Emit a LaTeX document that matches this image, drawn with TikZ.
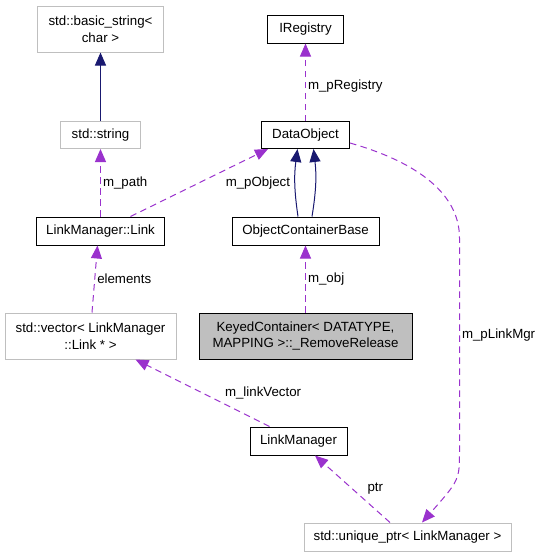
\documentclass[tikz,border=0pt]{standalone}
\usepackage{fontspec}
\setmainfont{Liberation Sans}
\usetikzlibrary{arrows.meta, calc}
\definecolor{usagepurple}{HTML}{9A32CD}
\definecolor{basenavy}{HTML}{191970}
\definecolor{extgray}{HTML}{BFBFBF}

\begin{document}
\begin{tikzpicture}[x=1pt, y=-1pt,
    font=\fontsize{13.3}{16.5}\selectfont,
    box/.style={draw=black, line width=1pt, inner sep=0pt, align=center, minimum height=28pt},
    ext/.style={box, draw=extgray},
    cur/.style={box, fill=extgray},
    usage/.style={draw=usagepurple, line width=1pt, dash pattern=on 6.5pt off 4.5pt,
        -{Triangle[length=13pt, width=11pt, fill=usagepurple]}},
    inherit/.style={draw=basenavy, line width=1pt,
        -{Triangle[length=13pt, width=11pt, fill=basenavy]}},
    lbl/.style={inner sep=2pt}]
    \useasboundingbox (0,0) rectangle (540,557);
    % Classes
    \node[ext, minimum width=126pt, minimum height=46pt] (bstr) at (100.5,29) {std::basic\_string<\\char >};
    \node[box, minimum width=76pt] (ireg) at (305.5,29) {IRegistry};
    \node[ext, minimum width=80pt, minimum height=27pt] (str) at (100.5,135) {std::string};
    \node[box, minimum width=88pt, minimum height=27pt] (dobj) at (305.5,135) {DataObject};
    \node[box, minimum width=128pt] (link) at (100.5,231) {LinkManager::Link};
    \node[box, minimum width=147pt] (ocb) at (305.5,231) {ObjectContainerBase};
    \node[ext, minimum width=171pt, minimum height=46pt] (vec) at (90.5,336) {std::vector< LinkManager\\::Link * >};
    \node[cur, minimum width=213pt, minimum height=46pt] (keyed) at (305.5,336) {KeyedContainer< DATATYPE,\\MAPPING >::\_RemoveRelease};
    \node[box, minimum width=97pt] (lmgr) at (298.5,441) {LinkManager};
    \node[ext, minimum width=207pt] (uptr) at (407.5,537) {std::unique\_ptr< LinkManager >};
    % Inheritance
    \draw[inherit] (str) -- (bstr);
    \draw[inherit] ([xshift=-7.5pt]ocb.north) to[bend left=8] ([xshift=-8pt]dobj.south);
    \draw[inherit] ([xshift=6.5pt]ocb.north) to[bend right=8] ([xshift=8pt]dobj.south);
    % Usage
    \draw[usage] (dobj) -- (ireg) node[lbl, pos=0.45, right] (lreg) {m\_pRegistry};
    \draw[usage] (link) -- (str) node[lbl, midway, right] (lpath) {m\_path};
    \draw[usage] ([xshift=30pt]link.north) -- ([xshift=7pt]dobj.south west)
        node[lbl, midway, anchor=west, xshift=24pt] (lobject) {m\_pObject};
    \draw[usage] (keyed) -- (ocb) node[lbl, midway, right] (lobj) {m\_obj};
    \draw[usage] ([xshift=1.5pt]vec.north) -- ([xshift=-3pt]link.south)
        node[lbl, midway, right] (lelem) {elements};
    \draw[usage] ([xshift=20pt]lmgr.north west) -- ([xshift=45pt]vec.south)
        node[lbl, midway, anchor=west, xshift=20pt] (lvec) {m\_linkVector};
    \draw[usage] ([xshift=-17.5pt]uptr.north) -- ([xshift=16.5pt]lmgr.south)
        node[lbl, midway, anchor=west, xshift=12.5pt] (lptr) {ptr};
    \coordinate (mgrtop) at (459.5,238);
    \coordinate (mgrbot) at (459.5,450);
    \draw[usage] ([yshift=-8pt]dobj.east) .. controls (410,160) and (459.5,190) .. (mgrtop)
        -- (mgrbot) node[lbl, pos=0.46, right] (lmgrptr) {m\_pLinkMgr}
        .. controls (459.5,480) .. ([xshift=14.5pt]uptr.north);
\end{tikzpicture}
\end{document}
